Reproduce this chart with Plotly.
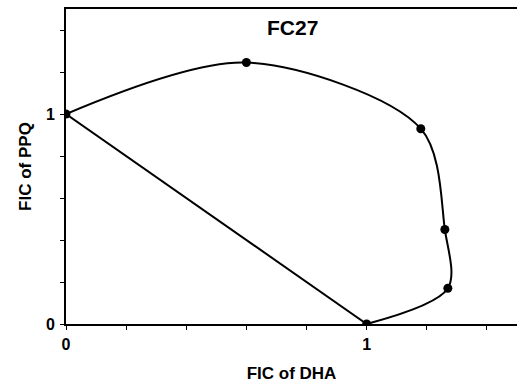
import plotly.graph_objects as go

# FIC values of the isobole (DHA on x, PPQ on y)
fic_dha = [0.0, 0.60, 1.18, 1.26, 1.27, 1.0]
fic_ppq = [1.0, 1.245, 0.93, 0.45, 0.17, 0.0]

# additivity line
add_dha = [0.0, 1.0]
add_ppq = [1.0, 0.0]

tick_vals = [0, 0.2, 0.4, 0.6, 0.8, 1.0, 1.2, 1.4]
tick_text = ["<b>0</b>", "", "", "", "", "<b>1</b>", "", ""]

fig = go.Figure()
fig.add_trace(go.Scatter(
    x=add_dha, y=add_ppq, mode="lines",
    line=dict(color="black", width=2), hoverinfo="skip", showlegend=False))
fig.add_trace(go.Scatter(
    x=fic_dha, y=fic_ppq, mode="lines+markers",
    line=dict(color="black", width=2, shape="spline", smoothing=0.9),
    marker=dict(color="black", size=9), showlegend=False))

font = dict(family="Liberation Sans, Arial, sans-serif", color="black")
fig.update_layout(
    width=517, height=387,
    margin=dict(l=66, r=0, t=9, b=63),
    paper_bgcolor="white", plot_bgcolor="white",
    font=dict(size=16, **font),
    annotations=[dict(text="<b>FC27</b>", x=0.503, xref="paper", y=1.41, yref="y",
                      yanchor="middle", showarrow=False,
                      font=dict(size=21, **font))],
)
fig.update_xaxes(
    range=[0, 1.5], tickvals=tick_vals, ticktext=tick_text,
    ticks="outside", ticklen=4, tickwidth=1, tickcolor="black",
    ticklabelstandoff=1,
    showline=True, linecolor="black", linewidth=2, mirror=True,
    showgrid=False, zeroline=False,
    tickfont=dict(size=16, **font),
    title=dict(text="<b>FIC of DHA</b>", font=dict(size=17, **font), standoff=15),
)
fig.update_yaxes(
    range=[0, 1.5], tickvals=tick_vals, ticktext=tick_text,
    ticks="outside", ticklen=4, tickwidth=1, tickcolor="black",
    ticklabelstandoff=2,
    showline=True, linecolor="black", linewidth=2,
    showgrid=False, zeroline=False,
    tickfont=dict(size=16, **font),
    title=dict(text="<b>FIC of PPQ</b>", font=dict(size=17, **font), standoff=10),
)

fig.write_html("out.html")
